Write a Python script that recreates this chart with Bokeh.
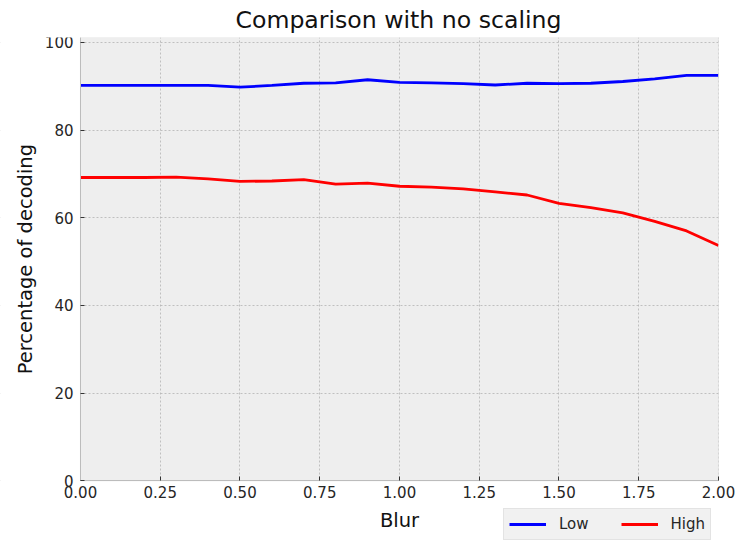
import math
from bokeh.plotting import figure
from bokeh.models import (Range1d, FixedTicker, Legend, LegendItem,
                          NumeralTickFormatter, BoxAnnotation, Label)
from bokeh.embed import file_html
from bokeh.resources import INLINE

blur = [0.0, 0.1, 0.2, 0.3, 0.4, 0.5, 0.6, 0.7, 0.8, 0.9, 1.0,
        1.1, 1.2, 1.3, 1.4, 1.5, 1.6, 1.7, 1.8, 1.9, 2.0]
low = [90.2, 90.2, 90.2, 90.2, 90.2, 89.8, 90.2, 90.7, 90.8, 91.5, 90.9,
       90.8, 90.6, 90.3, 90.7, 90.6, 90.7, 91.1, 91.7, 92.5, 92.5]
high = [69.2, 69.2, 69.2, 69.3, 68.9, 68.3, 68.4, 68.7, 67.7, 67.9, 67.2,
        67.0, 66.6, 65.9, 65.2, 63.3, 62.3, 61.1, 59.2, 57.0, 53.7]
x_ticks = [0.0, 0.25, 0.5, 0.75, 1.0, 1.25, 1.5, 1.75, 2.0]
y_ticks = [0, 20, 40, 60, 80, 100]
x_min, x_max = 0.0, 2.0
y_min, y_max = 0.0, 101.14

FONT = "DejaVu Sans"

# The plotting frame covers the whole canvas below the title; the axes box
# (x 0..2, y 0..101) is drawn inside it, so that tick labels, axis labels and
# the legend placed beside "Blur" are all visible.
p = figure(width=738, height=542, output_backend="svg", toolbar_location=None,
           x_range=Range1d(-0.25078, 2.0627), y_range=Range1d(-14.09, y_max),
           min_border_left=0, min_border_right=0, min_border_top=35,
           min_border_bottom=0,
           title="Comparison with no scaling")

p.title.text_font = FONT
p.title.text_font_size = "23.6px"
p.title.text_font_style = "normal"
p.title.align = "left"
p.title.offset = 235
p.title.text_color = "#111111"
p.title.standoff = 7

p.background_fill_color = "white"
p.border_fill_color = "white"
p.outline_line_color = None

for g in (p.xgrid, p.ygrid):
    g.grid_line_color = "#b2b2b2"
    g.grid_line_dash = "2 2"
    g.grid_line_width = 0.8

# grey axes background, drawn beneath the grid
axes_bg = BoxAnnotation(bottom=y_min, left=x_min, right=x_max,
                        fill_color="#eeeeee", fill_alpha=1.0,
                        line_color=None, level="underlay")
p.center = [axes_bg] + list(p.center)

# white areas around the axes box hide the grid outside it
for box in (BoxAnnotation(top=y_min), BoxAnnotation(right=x_min),
            BoxAnnotation(left=x_max)):
    box.fill_color = "white"
    box.fill_alpha = 1.0
    box.line_color = None
    box.level = "glyph"
    p.add_layout(box)
# axes box border
p.add_layout(BoxAnnotation(bottom=y_min, left=x_min, right=x_max,
                           fill_color=None, fill_alpha=0,
                           line_color="#bcbcbc", line_width=1, level="glyph"))

p.xaxis.ticker = FixedTicker(ticks=x_ticks)
p.yaxis.ticker = FixedTicker(ticks=y_ticks)
p.xaxis.formatter = NumeralTickFormatter(format="0.00")
p.yaxis.formatter = NumeralTickFormatter(format="0")
p.xaxis.fixed_location = y_min
p.yaxis.fixed_location = x_min
p.xaxis.bounds = (x_min, x_max)
p.yaxis.bounds = (y_min, y_max)

for ax in (p.xaxis, p.yaxis):
    ax.axis_line_color = "#bcbcbc"
    ax.major_tick_in = 4
    ax.major_tick_out = 0
    ax.major_tick_line_color = "#333333"
    ax.minor_tick_line_color = None
    ax.major_label_text_font = FONT
    ax.major_label_text_font_size = "15px"
    ax.major_label_text_color = "#262626"
p.xaxis.major_label_standoff = 5
p.yaxis.major_label_standoff = 7

# axis titles
p.add_layout(Label(x=(x_min + x_max) / 2, y=-9.1, text="Blur",
                   text_font=FONT, text_font_size="19.5px",
                   text_color="#111111", text_align="center",
                   text_baseline="middle"))
p.add_layout(Label(x=25, x_units="screen", y=(y_min + y_max) / 2,
                   text="Percentage of decoding", angle=math.pi / 2,
                   text_font=FONT, text_font_size="19.5px",
                   text_color="#111111", text_align="center",
                   text_baseline="middle"))

r_low = p.line(blur, low, line_color="#0000ff", line_width=2.8)
r_high = p.line(blur, high, line_color="#ff0000", line_width=2.8)

legend = Legend(items=[LegendItem(label="Low", renderers=[r_low]),
                       LegendItem(label="High", renderers=[r_high])],
                orientation="horizontal", location=(503, 2))
legend.label_text_font = FONT
legend.label_text_font_size = "15px"
legend.label_text_color = "#262626"
legend.glyph_width = 37
legend.label_standoff = 13
legend.spacing = 32
legend.padding = 5
legend.margin = 0
legend.background_fill_color = "#f1f1f1"
legend.background_fill_alpha = 1.0
legend.border_line_color = "#d6d6d6"
p.add_layout(legend, "center")

open("out.html", "w").write(file_html(p, INLINE))
